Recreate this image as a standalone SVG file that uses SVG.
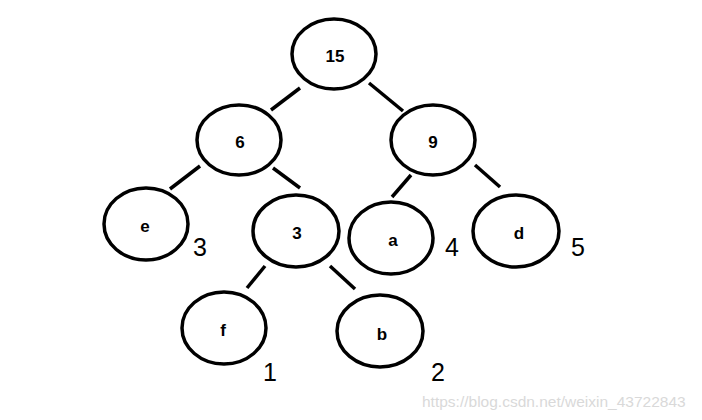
<svg xmlns="http://www.w3.org/2000/svg" width="702" height="420" viewBox="0 0 702 420">
<style>
.n{fill:#fff;stroke:#000;stroke-width:3.5}
.t{font-family:"Liberation Sans",Arial,sans-serif;font-weight:bold;font-size:17px;text-anchor:middle;fill:#000}
.w{font-family:"Liberation Sans",Arial,sans-serif;font-size:25px;text-anchor:middle;fill:#000}
.e{stroke:#000;stroke-width:3.5;fill:none}
.wm{font-family:"Liberation Sans",Arial,sans-serif;font-size:15.5px;fill:#d9d9d9}
</style>
<rect width="702" height="420" fill="#fff"/>
<g id="connectors">
<line class="e" x1="300" y1="88" x2="271" y2="110"/>
<line class="e" x1="369" y1="83" x2="403" y2="111"/>
<line class="e" x1="200" y1="166" x2="170" y2="189"/>
<line class="e" x1="273" y1="168" x2="300" y2="188"/>
<line class="e" x1="411" y1="175" x2="392" y2="197"/>
<line class="e" x1="475" y1="165" x2="500" y2="187"/>
<line class="e" x1="265" y1="266" x2="247" y2="288"/>
<line class="e" x1="330" y1="266" x2="355" y2="289"/>
</g>
<g id="n15"><ellipse class="n" cx="334" cy="54" rx="42" ry="35"/><text class="t" x="335" y="62">15</text></g>
<g id="n6"><ellipse class="n" cx="239" cy="140" rx="42" ry="35"/><text class="t" x="240" y="147.5">6</text></g>
<g id="n9"><ellipse class="n" cx="433" cy="140" rx="42" ry="35"/><text class="t" x="433" y="147.5">9</text></g>
<g id="ne"><ellipse class="n" cx="146" cy="224" rx="42" ry="36"/><text class="t" x="145" y="232">e</text></g>
<g id="n3"><ellipse class="n" cx="296" cy="231" rx="43" ry="36"/><text class="t" x="297" y="239">3</text></g>
<g id="na"><ellipse class="n" cx="391" cy="238" rx="42" ry="36"/><text class="t" x="393" y="246">a</text></g>
<g id="nd"><ellipse class="n" cx="516" cy="231" rx="43" ry="36"/><text class="t" x="519" y="239">d</text></g>
<g id="nf"><ellipse class="n" cx="224" cy="328" rx="42" ry="36"/><text class="t" x="223" y="336">f</text></g>
<g id="nb"><ellipse class="n" cx="380" cy="331" rx="43" ry="36"/><text class="t" x="382" y="340">b</text></g>
<g id="weights">
<text class="w" x="200" y="256">3</text>
<text class="w" x="452" y="256">4</text>
<text class="w" x="578" y="256">5</text>
<text class="w" x="270" y="381">1</text>
<text class="w" x="438" y="381">2</text>
</g>
<text class="wm" x="422" y="407">https://blog.csdn.net/weixin_43722843</text>
</svg>
